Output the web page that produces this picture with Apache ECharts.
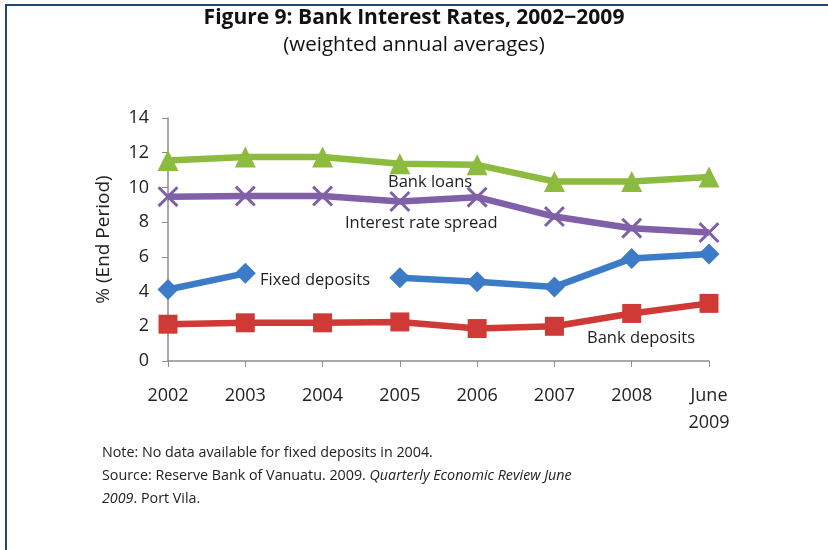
<!DOCTYPE html>
<html><head><meta charset="utf-8">
<script src="https://cdn.jsdelivr.net/npm/echarts@6/dist/echarts.min.js"></script>
<style>html,body{margin:0;padding:0;background:#fff}#c{width:828px;height:550px}</style>
</head><body><div id="c"></div>
<script>
const categories = ['2002','2003','2004','2005','2006','2007','2008','June\n2009'];
const bankLoans = [11.55, 11.75, 11.75, 11.36, 11.3, 10.34, 10.34, 10.6];
const rateSpread = [9.47, 9.5, 9.5, 9.19, 9.44, 8.32, 7.65, 7.4];
const fixedDeposits = [4.12, 5.05, null, 4.8, 4.56, 4.27, 5.91, 6.16];
const bankDeposits = [2.12, 2.2, 2.2, 2.25, 1.87, 2.0, 2.74, 3.32];
const yTicks = [0, 2, 4, 6, 8, 10, 12, 14];

const FONT = 'Open Sans';
const chart = echarts.init(document.getElementById('c'), null, {renderer:'canvas'});
const crossPath = 'path://M0,1 L1,0 L5,4 L9,0 L10,1 L6,5 L10,9 L9,10 L5,6 L1,10 L0,9 L4,5 Z';
function s(name, data, color, symbol, size) {
  return {name, type:'line', data, connectNulls:false, symbol, symbolSize:size,
    lineStyle:{color, width:6.5}, itemStyle:{color}, emphasis:{disabled:true}, z:3};
}
chart.setOption({
  animation:false,
  textStyle:{fontFamily:FONT},
  grid:{left:168, right:119, top:118, bottom:189},
  xAxis:{type:'category', data:categories, boundaryGap:false,
    axisLine:{lineStyle:{color:'#8c8c8c', width:1.5}},
    axisTick:{show:true, length:6, alignWithLabel:true, lineStyle:{color:'#8c8c8c'}},
    axisLabel:{color:'#222', fontSize:18, fontFamily:FONT, margin:21, lineHeight:27, interval:0},
    splitLine:{show:false}},
  yAxis:{type:'value', min:yTicks[0], max:yTicks[yTicks.length-1], interval:2,
    axisLine:{show:true, lineStyle:{color:'#8c8c8c', width:1.5}},
    axisTick:{show:true, length:6, lineStyle:{color:'#8c8c8c'}},
    axisLabel:{color:'#222', fontSize:18, fontFamily:FONT, margin:19},
    splitLine:{show:false},
    name:'% (End Period)', nameLocation:'middle', nameGap:55, nameRotate:90,
    nameTextStyle:{color:'#222', fontSize:19, fontFamily:FONT}},
  series:[
    s('Bank loans', bankLoans, '#8dbb3f', 'triangle', 21),
    s('Interest rate spread', rateSpread, '#8060a8', crossPath, 21),
    s('Fixed deposits', fixedDeposits, '#3c7bc8', 'diamond', 21),
    s('Bank deposits', bankDeposits, '#d03a36', 'rect', 19)
  ],
  graphic:[
    {type:'rect', shape:{x:5, y:4, width:823, height:2}, style:{fill:'#1d4a72'}},
    {type:'rect', shape:{x:5, y:4, width:2, height:546}, style:{fill:'#1d4a72'}},
    {type:'text', left:'center', top:8, style:{text:'Figure 9: Bank Interest Rates, 2002\u22122009', font:'bold 21px "Open Sans"', fill:'#111'}},
    {type:'text', left:'center', top:35, style:{text:'(weighted annual averages)', font:'20.5px "Open Sans"', fill:'#111'}},
    {type:'text', x:388, y:174, style:{text:'Bank loans', font:'16.5px "Open Sans"', fill:'#222'}},
    {type:'text', x:345, y:215, style:{text:'Interest rate spread', font:'16.5px "Open Sans"', fill:'#222'}},
    {type:'text', x:260, y:272, style:{text:'Fixed deposits', font:'16.5px "Open Sans"', fill:'#222'}},
    {type:'text', x:587, y:330, style:{text:'Bank deposits', font:'16.5px "Open Sans"', fill:'#222'}},
    {type:'text', x:102, y:441, style:{
      text:'Note: No data available for fixed deposits in 2004.\nSource: Reserve Bank of Vanuatu. 2009. {i|Quarterly Economic Review June}\n{i|2009}. Port Vila.',
      font:'14.3px "Open Sans"', fill:'#222', lineHeight:23,
      rich:{i:{fontStyle:'italic', fontSize:14.3, fontFamily:FONT, fill:'#222', lineHeight:23}}}}
  ]
});
</script></body></html>
